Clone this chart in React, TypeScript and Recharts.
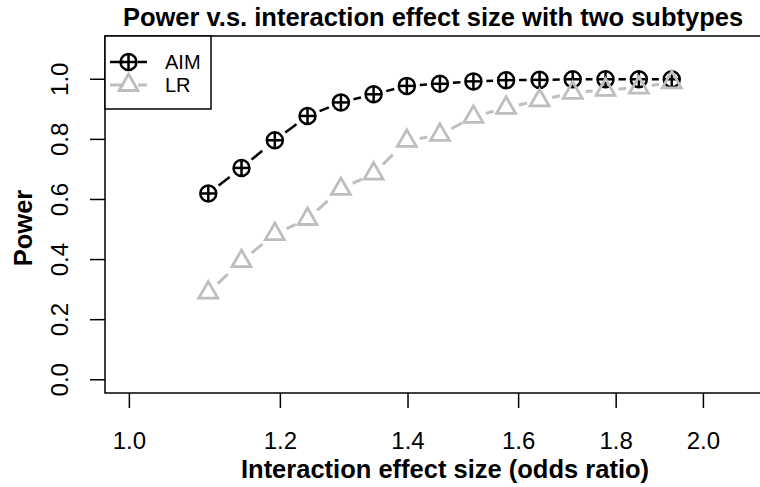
import { Line, LineChart, ReferenceArea, XAxis, YAxis } from "recharts";

// odds ratios (log-spaced) and power for the two methods
const oddsRatio = [1.1, 1.145, 1.192, 1.24, 1.291, 1.343, 1.398, 1.455, 1.515, 1.576, 1.641, 1.708, 1.777, 1.85, 1.925];
const aimPower = [0.62, 0.705, 0.797, 0.878, 0.923, 0.95, 0.978, 0.985, 0.993, 0.997, 0.998, 1.0, 1.0, 1.0, 1.0];
const lrPower = [0.29, 0.395, 0.485, 0.535, 0.635, 0.686, 0.795, 0.815, 0.875, 0.905, 0.93, 0.955, 0.965, 0.972, 0.99];
const xTicks = [1.0, 1.2, 1.4, 1.6, 1.8, 2.0];
const yTicks = [0, 0.2, 0.4, 0.6, 0.8, 1.0];

const data = oddsRatio.map((or, i) => ({ or, aim: aimPower[i], lr: lrPower[i] }));

const FONT = '"Liberation Sans", Arial, sans-serif';
const GRAY = "#BEBEBE";
const X_DOMAIN = [0.971, 2.144];
const Y_DOMAIN = [-0.044, 1.144];
const GAP = 13;

// R type="b": dashed segment with a gap around each point
function gapSegment(x1: number, y1: number, x2: number, y2: number, color: string, width: number) {
  const dx = x2 - x1;
  const dy = y2 - y1;
  const d = Math.hypot(dx, dy);
  if (d <= 2 * GAP) return null;
  const ux = dx / d;
  const uy = dy / d;
  return (
    <line
      x1={x1 + ux * GAP}
      y1={y1 + uy * GAP}
      x2={x2 - ux * GAP}
      y2={y2 - uy * GAP}
      stroke={color}
      strokeWidth={width}
      strokeDasharray="14 14"
    />
  );
}

function CirclePlus({ cx, cy }: { cx: number; cy: number }) {
  return (
    <g stroke="#000" strokeWidth={2.5} fill="none">
      <circle cx={cx} cy={cy} r={8} />
      <line x1={cx - 8} y1={cy} x2={cx + 8} y2={cy} />
      <line x1={cx} y1={cy - 8} x2={cx} y2={cy + 8} />
    </g>
  );
}

function Triangle({ cx, cy }: { cx: number; cy: number }) {
  return (
    <polygon
      points={`${cx},${cy - 11} ${cx + 9.5},${cy + 5.5} ${cx - 9.5},${cy + 5.5}`}
      stroke={GRAY}
      strokeWidth={2.8}
      fill="none"
    />
  );
}

function aimDot(props: any) {
  const { cx, cy, index, points } = props;
  const next = points && points[index + 1];
  return (
    <g key={`aim-${index}`}>
      {next && gapSegment(cx, cy, next.x, next.y, "#000", 2.5)}
      <CirclePlus cx={cx} cy={cy} />
    </g>
  );
}

function lrDot(props: any) {
  const { cx, cy, index, points } = props;
  const next = points && points[index + 1];
  return (
    <g key={`lr-${index}`}>
      {next && gapSegment(cx, cy, next.x, next.y, GRAY, 3)}
      <Triangle cx={cx} cy={cy} />
    </g>
  );
}

function XTick({ x, y, payload }: any) {
  return (
    <text x={x} y={y} dy={38.5} textAnchor="middle" fontSize={24} fontFamily={FONT} fill="#000">
      {Number(payload.value).toFixed(1)}
    </text>
  );
}

function YTick({ x, y, payload }: any) {
  const bx = x - 20;
  return (
    <text x={bx} y={y} transform={`rotate(-90 ${bx} ${y})`} textAnchor="middle" fontSize={24} fontFamily={FONT} fill="#000">
      {Number(payload.value).toFixed(1)}
    </text>
  );
}

export default function App() {
  return (
    <div style={{ position: "absolute", left: 0, top: 0, width: 760, height: 487, overflow: "hidden", background: "#fff" }}>
      <div style={{ position: "absolute", left: 0, top: 0 }}>
        <LineChart width={762} height={487} data={data} margin={{ top: 36, right: 1, left: 5, bottom: 34 }}>
          <XAxis
            dataKey="or"
            type="number"
            scale="log"
            domain={X_DOMAIN}
            allowDataOverflow
            ticks={xTicks}
            interval={0}
            height={60}
            axisLine={false}
            tickSize={15}
            tickLine={{ stroke: "#000", strokeWidth: 1.5 }}
            tick={<XTick />}
          />
          <YAxis
            type="number"
            domain={Y_DOMAIN}
            allowDataOverflow
            ticks={yTicks}
            interval={0}
            width={100}
            axisLine={false}
            tickSize={15}
            tickLine={{ stroke: "#000", strokeWidth: 1.5 }}
            tick={<YTick />}
          />
          <ReferenceArea
            x1={X_DOMAIN[0]}
            x2={X_DOMAIN[1]}
            y1={Y_DOMAIN[0]}
            y2={Y_DOMAIN[1]}
            fill="none"
            stroke="#000"
            strokeWidth={1.5}
            fillOpacity={0}
          />
          <Line dataKey="aim" stroke="none" dot={aimDot} activeDot={false} isAnimationActive={false} />
          <Line dataKey="lr" stroke="none" dot={lrDot} activeDot={false} isAnimationActive={false} />
        </LineChart>
      </div>
      <svg width={760} height={487} style={{ position: "absolute", left: 0, top: 0, pointerEvents: "none" }}>
        <text x={433} y={26} textAnchor="middle" fontSize={25.5} fontWeight="bold" fontFamily={FONT}>
          Power v.s. interaction effect size with two subtypes
        </text>
        <text x={445} y={478} textAnchor="middle" fontSize={25.5} fontWeight="bold" fontFamily={FONT}>
          Interaction effect size (odds ratio)
        </text>
        <text x={31.5} y={228} transform="rotate(-90 31.5 228)" textAnchor="middle" fontSize={25.5} fontWeight="bold" fontFamily={FONT}>
          Power
        </text>
        <g>
          <rect x={105} y={36} width={106} height={73} fill="#fff" stroke="#000" strokeWidth={1.5} />
          <line x1={110} y1={62} x2={147} y2={62} stroke="#000" strokeWidth={2.5} strokeDasharray="14 14" />
          <CirclePlus cx={128.5} cy={62} />
          <line x1={110} y1={85} x2={147} y2={85} stroke={GRAY} strokeWidth={3} strokeDasharray="14 14" />
          <Triangle cx={128.5} cy={85} />
          <text x={165} y={69} fontSize={20} fontFamily={FONT}>AIM</text>
          <text x={165} y={92} fontSize={20} fontFamily={FONT}>LR</text>
        </g>
      </svg>
    </div>
  );
}
